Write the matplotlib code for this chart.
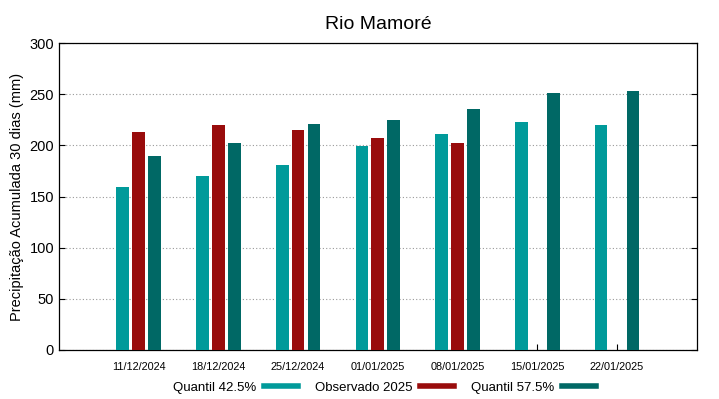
import numpy as np
import matplotlib
matplotlib.use("Agg")
import matplotlib.pyplot as plt
from matplotlib.lines import Line2D

plt.rcParams['font.family'] = ['Liberation Sans', 'DejaVu Sans']

# weekly dates and accumulated 30-day precipitation (mm)
dates = ['11/12/2024', '18/12/2024', '25/12/2024', '01/01/2025',
         '08/01/2025', '15/01/2025', '22/01/2025']
quantil_425 = [159, 170, 181, 199, 211, 223, 220]
observado_2025 = [213, 220, 215, 207, 202, np.nan, np.nan]
quantil_575 = [190, 202, 221, 225, 236, 251, 253]

c_q425 = '#009a9a'
c_obs = '#990c0c'
c_q575 = '#006865'

fig = plt.figure(figsize=(7.19, 3.99), dpi=100)
ax = fig.add_axes([0.082, 0.123, 0.887, 0.769])

x = np.arange(1, len(dates) + 1)
w = 0.16
ax.bar(x - 0.2, quantil_425, w, color=c_q425, zorder=3)
ax.bar(x, observado_2025, w, color=c_obs, zorder=3)
ax.bar(x + 0.2, quantil_575, w, color=c_q575, zorder=3)

ax.set_xlim(0.0, 8.0)
ax.set_ylim(0, 300)
ax.set_yticks(np.arange(0, 301, 50))
ax.set_xticks(x)
ax.set_xticklabels(dates, fontsize=7.8)
ax.tick_params(axis='y', labelsize=10.5, direction='in', length=4, right=True)
ax.tick_params(axis='x', direction='in', length=4, pad=9)
ax.grid(axis='y', color='#999999', linestyle=(0, (1, 2)), linewidth=0.8, zorder=0)
for s in ax.spines.values():
    s.set_linewidth(0.9)

ax.set_ylabel('Precipitação Acumulada 30 dias (mm)', fontsize=10.5)
ax.set_title('Rio Mamoré', fontsize=14, pad=10)

handles = [Line2D([0], [0], color=c, linewidth=4) for c in (c_q425, c_obs, c_q575)]
fig.legend(handles, ['Quantil 42.5%', 'Observado 2025', 'Quantil 57.5%'],
           loc='center', bbox_to_anchor=(0.535, 0.028), ncol=3, frameon=False,
           markerfirst=False, fontsize=9.5, handlelength=2.6, columnspacing=1.3,
           handletextpad=0.55)

fig.savefig('out.png', dpi=100)
